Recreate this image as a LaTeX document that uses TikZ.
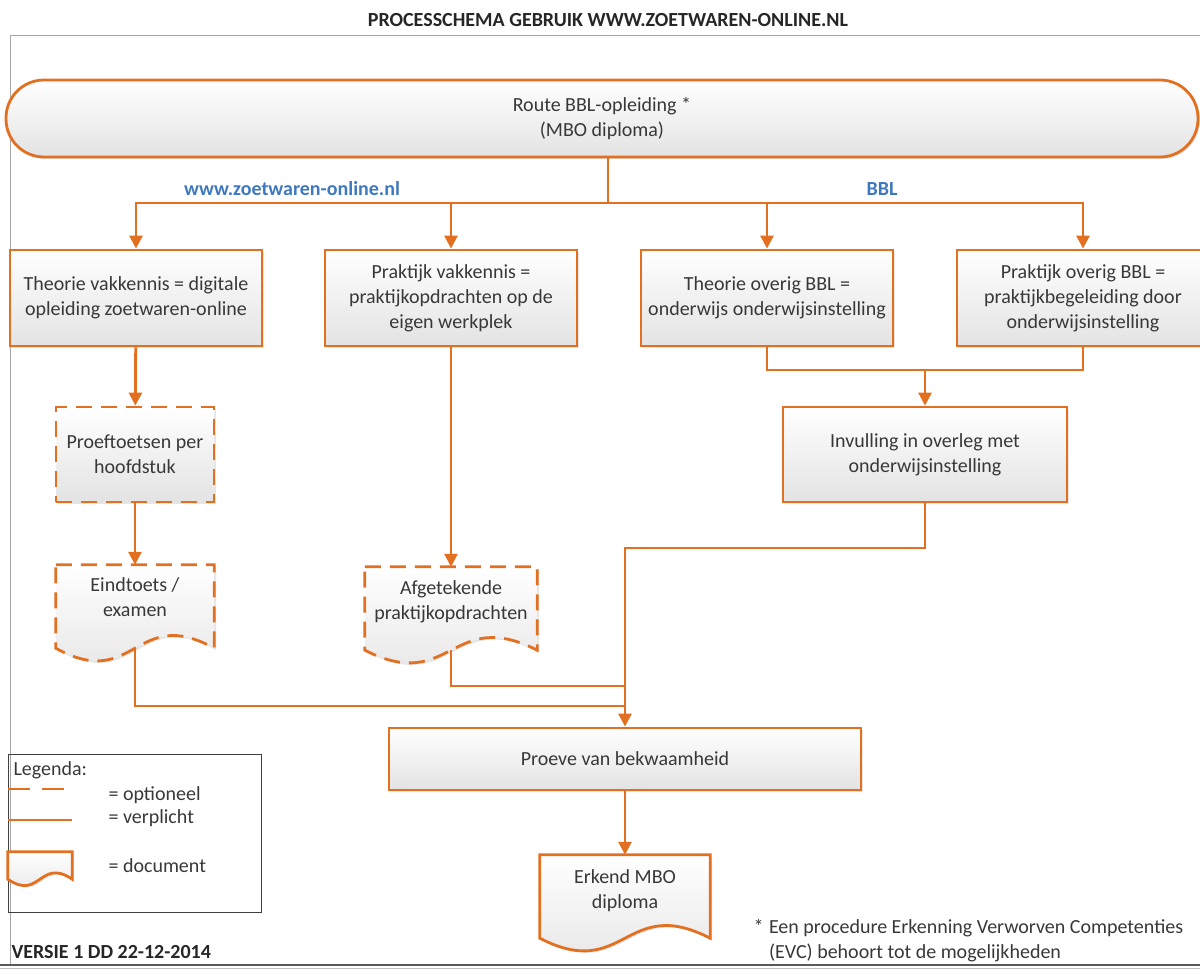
\documentclass[tikz,border=0pt]{standalone}
\usepackage{fontspec}
\setmainfont{Carlito}
\usetikzlibrary{arrows.meta,shadows,calc}
\definecolor{org}{RGB}{226,112,32}
\definecolor{lbl}{RGB}{62,120,190}
\newcommand\docpath[4]{% node, extra depth, wave control, style
  \path[#4] let \p1=(#1.north west), \p2=(#1.south east) in
    (\p1) -- (\x2,\y1) -- (\x2,\y2-#2) .. controls ({(\x1+\x2)/2},\y2-#2+#3) and ({(\x1+\x2)/2},\y2-#2-#3) .. (\x1,\y2-#2) -- cycle;
  \coordinate (#1-b) at ([yshift=-#2]#1.south);
}
\begin{document}
\begin{tikzpicture}[x=1pt,y=-1pt,
  txt/.style={font=\fontsize{20}{25}\selectfont, text=black!78, align=center},
  shade/.style={top color=white, bottom color=black!11, drop shadow={shadow xshift=2pt, shadow yshift=-2pt, opacity=0.2}},
  box/.style={txt, shade, draw=org, line width=2.8pt, inner sep=0pt},
  dsh/.style={dash pattern=on 16pt off 9pt},
  docn/.style={txt, inner sep=0pt},
  docline/.style={shade, draw=org, line width=2.8pt},
  conn/.style={draw=org, line width=2.8pt},
  arr/.style={conn, -{Triangle[length=13pt,width=13pt]}},
  lab/.style={font=\fontsize{20}{24}\selectfont\bfseries, text=lbl},
  bold/.style={font=\fontsize{20}{24}\selectfont\bfseries, text=black!85},
]
\useasboundingbox (0,0) rectangle (1200,975);
% frame
\draw[black!35, line width=1pt] (10,35) -- (1200,35);
\draw[black!35, line width=1pt] (10,35) -- (10,965);
\draw[black!65, line width=2.5pt] (0,965) -- (1200,965);
\draw[black!25, line width=1pt] (0,968.5) -- (1200,968.5);

\node[bold] (title) at (608,20) {PROCESSCHEMA GEBRUIK WWW.ZOETWAREN-ONLINE.NL};

% top stadium
\node[box, rounded corners=38pt, minimum width=1192pt, minimum height=77pt] (route) at (602,118.5) {Route BBL-opleiding *\\(MBO diploma)};

\node[lab] (lweb) at (292,189) {www.zoetwaren-online.nl};
\node[lab] (lbbl) at (882,189) {BBL};

% row 1
\node[box, minimum width=252pt, minimum height=96pt] (b1) at (136,298) {Theorie vakkennis = digitale\\opleiding zoetwaren-online};
\node[box, minimum width=252pt, minimum height=96pt] (b2) at (451,298) {Praktijk vakkennis =\\praktijkopdrachten op de\\eigen werkplek};
\node[box, minimum width=252pt, minimum height=96pt] (b3) at (767,298) {Theorie overig BBL =\\onderwijs onderwijsinstelling};
\node[box, minimum width=252pt, minimum height=96pt] (b4) at (1083,298) {Praktijk overig BBL =\\praktijkbegeleiding door\\onderwijsinstelling};

% row 2
\node[box, dsh, minimum width=158pt, minimum height=95pt] (proef) at (135,454.5) {Proeftoetsen per\\hoofdstuk};
\node[box, minimum width=284pt, minimum height=95pt] (inv) at (925,454.5) {Invulling in overleg met\\onderwijsinstelling};

% documents
\node[docn, minimum width=158pt, minimum height=64pt] (eind) at (135,597) {};
\docpath{eind}{19pt}{44pt}{docline, dsh}
\node[docn] at (eind) {Eindtoets /\\examen};

\node[docn, minimum width=172pt, minimum height=70pt] (afg) at (451,602) {};
\docpath{afg}{13pt}{44pt}{docline, dsh}
\node[docn] at (afg) {Afgetekende\\praktijkopdrachten};

\node[box, minimum width=472pt, minimum height=62pt] (proeve) at (625,759) {Proeve van bekwaamheid};

\node[docn, minimum width=170pt, minimum height=72pt] (erk) at (625,891) {};
\docpath{erk}{11pt}{44pt}{docline}
\node[docn] at (erk) {Erkend MBO\\diploma};

% connectors
\coordinate (split) at (608,203);
\draw[conn] ([xshift=6pt]route.south) -- (split);
\draw[arr] (split) -| (b1);
\draw[arr] (split) -| (b2);
\draw[arr] (split) -| (b3);
\draw[arr] (split) -| (b4);
\draw[arr] (b1) -- (proef);
\draw[arr] (proef) -- (eind);
\draw[arr] (b2) -- (afg);
\coordinate (m34) at (925,370);
\draw[conn] (b3) |- (m34) -| (b4);
\draw[arr] (m34) -- (inv);
\coordinate (jn) at (925,548);
\draw[arr] (inv.south) -- (jn) -| (proeve.north);
\coordinate (j2) at (625,706);
\coordinate (j3) at (625,686);
\draw[conn] (eind-b) |- (j2);
\draw[conn] (afg-b) |- (j3);
\draw[arr] (proeve) -- (erk);

% legend
\node[draw=black!75, line width=1pt, minimum width=253pt, minimum height=158pt, inner sep=0pt] (leg) at (134.5,833) {};
\node[txt, anchor=west] (legt) at (10,770) {Legenda:};
\coordinate (ld1) at (8,789);
\coordinate (ld2) at (65,789);
\draw[conn, dash pattern=on 22pt off 12pt] (ld1) -- (ld2);
\node[txt, anchor=west] (lopt) at (105,795) {= optioneel};
\coordinate (ls1) at (8,820);
\coordinate (ls2) at (72,820);
\draw[conn] (ls1) -- (ls2);
\node[txt, anchor=west] (lver) at (105,818) {= verplicht};
\node[docn, minimum width=64pt, minimum height=27pt] (ldoc) at (40,865.5) {};
\docpath{ldoc}{0pt}{22pt}{docline}
\node[txt, anchor=west] (ldt) at (105,866) {= document};

\node[bold, anchor=west] (versie) at (8,952) {VERSIE 1 DD 22-12-2014};
\node[txt, align=left, anchor=west] (foot) at (750,941) {*\;Een procedure Erkenning Verworven Competenties\\\phantom{*\;}(EVC) behoort tot de mogelijkheden};
\end{tikzpicture}
\end{document}
